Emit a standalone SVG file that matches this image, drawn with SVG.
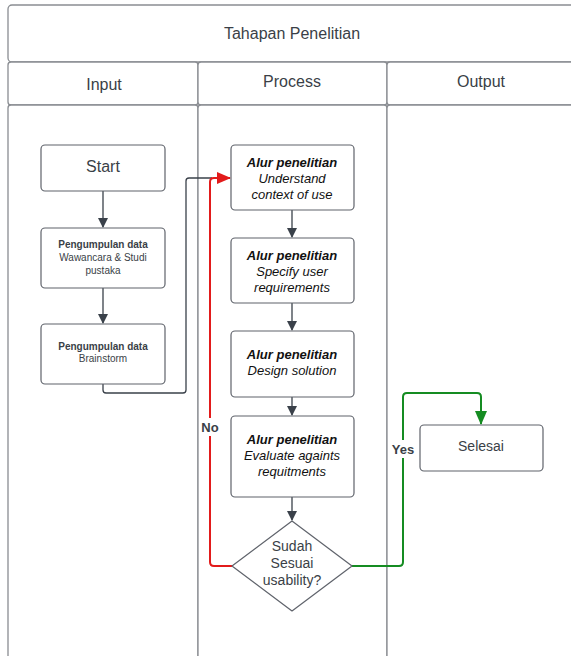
<svg xmlns="http://www.w3.org/2000/svg" width="571" height="656" viewBox="0 0 571 656">
<defs>
<style>
.lane{fill:#fff;stroke:#8a8d92;stroke-width:1.3}
.box{fill:#fff;stroke:#5f636b;stroke-width:1.2}
.t{font-family:"Liberation Sans",Arial,sans-serif;fill:#3a3f47;text-anchor:middle}
.h{font-size:16px}
.sm{font-size:10px}
.b{font-weight:bold}
.pi{font-size:13px;font-style:italic;fill:#111}
.c{fill:none;stroke:#3a414a;stroke-width:1.3}
.red{fill:none;stroke:#e21b1b;stroke-width:2}
.green{fill:none;stroke:#158c22;stroke-width:2}
.lbl{font-family:"Liberation Sans",Arial,sans-serif;font-size:13px;font-weight:bold;fill:#3a3f47;text-anchor:middle}
</style>
<marker id="ah" markerWidth="10" markerHeight="10" refX="9" refY="5" orient="auto" markerUnits="userSpaceOnUse"><path d="M0,0 L10,5 L0,10 z" fill="#3a414a"/></marker>
<marker id="ahr" markerWidth="14" markerHeight="12" refX="13" refY="6" orient="auto" markerUnits="userSpaceOnUse"><path d="M0,0 L14,6 L0,12 z" fill="#e21b1b"/></marker>
<marker id="ahg" markerWidth="14" markerHeight="12" refX="13" refY="6" orient="auto" markerUnits="userSpaceOnUse"><path d="M0,0 L14,6 L0,12 z" fill="#158c22"/></marker>
</defs>
<rect width="571" height="656" fill="#fff"/>
<g id="pool">
<rect class="lane" x="8" y="5" width="580" height="57" rx="4"/>
<text class="t h" x="292" y="39">Tahapan Penelitian</text>
<rect class="lane" x="8" y="62" width="190" height="43" rx="3"/>
<rect class="lane" x="198" y="62" width="189" height="43" rx="3"/>
<rect class="lane" x="387" y="62" width="200" height="43" rx="3"/>
<text class="t h" x="104" y="90">Input</text>
<text class="t h" x="292" y="87">Process</text>
<text class="t h" x="481" y="87">Output</text>
<rect class="lane" x="8" y="105" width="190" height="560" rx="3"/>
<rect class="lane" x="198" y="105" width="189" height="560" rx="3"/>
<rect class="lane" x="387" y="105" width="200" height="560" rx="3"/>
</g>
<g id="connectors">
<line class="c" x1="103" y1="191" x2="103" y2="227" marker-end="url(#ah)"/>
<line class="c" x1="103" y1="288" x2="103" y2="323" marker-end="url(#ah)"/>
<path class="c" d="M103,384 V390 Q103,393 106,393 H183 Q186,393 186,390 V181 Q186,178 189,178 H212"/>
<line class="c" x1="292" y1="210" x2="292" y2="237" marker-end="url(#ah)"/>
<line class="c" x1="292" y1="303" x2="292" y2="330" marker-end="url(#ah)"/>
<line class="c" x1="292" y1="397" x2="292" y2="415" marker-end="url(#ah)"/>
<line class="c" x1="292" y1="497" x2="292" y2="520" marker-end="url(#ah)"/>
<path class="red" d="M232,566 H214 Q210,566 210,562 V182 Q210,178 214,178 H230" marker-end="url(#ahr)"/>
<path class="green" d="M352,566 H399 Q403,566 403,562 V397 Q403,393 407,393 H477 Q481,393 481,397 V424" marker-end="url(#ahg)"/>
<rect x="200" y="418" width="20" height="18" fill="#fff"/>
<text class="lbl" x="210" y="432">No</text>
<rect x="390" y="440" width="26" height="18" fill="#fff"/>
<text class="lbl" x="403" y="454">Yes</text>
</g>
<g id="start">
<rect class="box" x="41" y="145" width="124" height="46" rx="4"/>
<text class="t" x="103" y="172" font-size="16">Start</text>
</g>
<g id="pengumpulan1">
<rect class="box" x="41" y="228" width="124" height="60" rx="4"/>
<text class="t sm b" x="103" y="248">Pengumpulan data</text>
<text class="t sm" x="103" y="261">Wawancara &amp; Studi</text>
<text class="t sm" x="103" y="274">pustaka</text>
</g>
<g id="pengumpulan2">
<rect class="box" x="41" y="324" width="124" height="60" rx="4"/>
<text class="t sm b" x="103" y="350">Pengumpulan data</text>
<text class="t sm" x="103" y="362">Brainstorm</text>
</g>
<g id="understand">
<rect class="box" x="231" y="145" width="123" height="65" rx="4"/>
<text class="t pi b" x="292" y="167">Alur penelitian</text>
<text class="t pi" x="292" y="183">Understand</text>
<text class="t pi" x="292" y="199">context of use</text>
</g>
<g id="specify">
<rect class="box" x="231" y="238" width="123" height="65" rx="4"/>
<text class="t pi b" x="292" y="260">Alur penelitian</text>
<text class="t pi" x="292" y="276">Specify user</text>
<text class="t pi" x="292" y="292">requirements</text>
</g>
<g id="design">
<rect class="box" x="231" y="331" width="123" height="66" rx="4"/>
<text class="t pi b" x="292" y="359">Alur penelitian</text>
<text class="t pi" x="292" y="375">Design solution</text>
</g>
<g id="evaluate">
<rect class="box" x="231" y="416" width="123" height="81" rx="4"/>
<text class="t pi b" x="292" y="444">Alur penelitian</text>
<text class="t pi" x="292" y="460">Evaluate againts</text>
<text class="t pi" x="292" y="476">requitments</text>
</g>
<g id="decision">
<path class="box" d="M292,521 L352,566 L292,611 L232,566 Z" stroke-linejoin="round"/>
<text class="t" x="292" y="551" font-size="14">Sudah</text>
<text class="t" x="292" y="568" font-size="14">Sesuai</text>
<text class="t" x="292" y="585" font-size="14">usability?</text>
</g>
<g id="selesai">
<rect class="box" x="420" y="425" width="123" height="46" rx="4"/>
<text class="t" x="481" y="451" font-size="14">Selesai</text>
</g>
</svg>
